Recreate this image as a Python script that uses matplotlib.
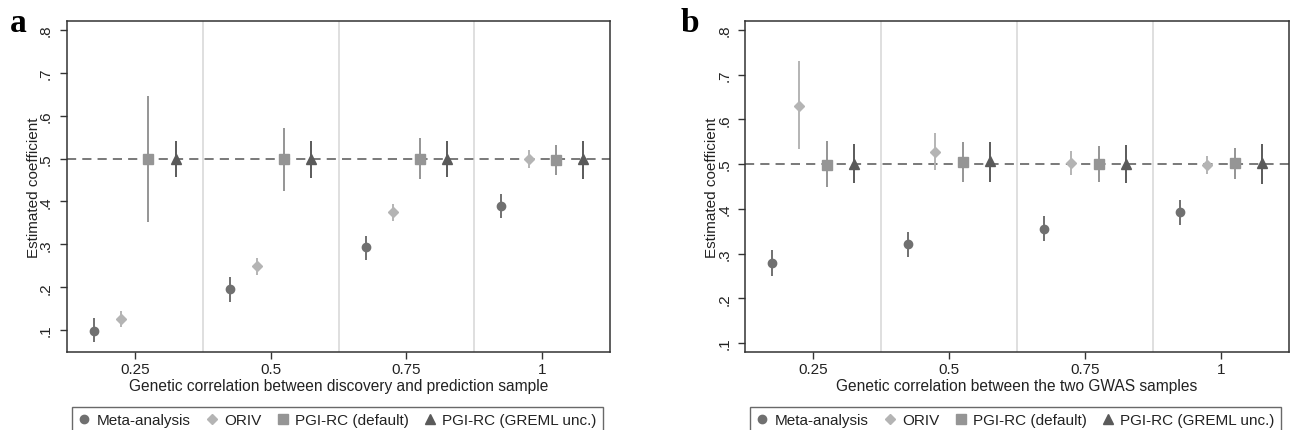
import matplotlib
matplotlib.use("Agg")
import matplotlib.pyplot as plt
import numpy as np

plt.rcParams['font.family'] = ['Liberation Sans', 'DejaVu Sans']

# Categories (genetic correlation)
rg = [0.25, 0.5, 0.75, 1.0]
xticklabels = ["0.25", "0.5", "0.75", "1"]
yticks = [0.1, 0.2, 0.3, 0.4, 0.5, 0.6, 0.7, 0.8]
yticklabels = [".1", ".2", ".3", ".4", ".5", ".6", ".7", ".8"]

methods = ["Meta-analysis", "ORIV", "PGI-RC (default)", "PGI-RC (GREML unc.)"]

# Panel a: estimates, lower and upper CI
a_meta = [0.098, 0.195, 0.293, 0.390]
a_meta_lo = [0.072, 0.166, 0.263, 0.362]
a_meta_hi = [0.128, 0.223, 0.320, 0.417]
a_oriv = [0.126, 0.249, 0.375, 0.499]
a_oriv_lo = [0.107, 0.228, 0.354, 0.479]
a_oriv_hi = [0.145, 0.268, 0.395, 0.519]
a_pgi = [0.500, 0.498, 0.500, 0.496]
a_pgi_lo = [0.353, 0.425, 0.452, 0.462]
a_pgi_hi = [0.647, 0.571, 0.548, 0.532]
a_greml = [0.500, 0.500, 0.500, 0.498]
a_greml_lo = [0.456, 0.454, 0.456, 0.452]
a_greml_hi = [0.542, 0.540, 0.542, 0.540]

# Panel b
b_meta = [0.279, 0.321, 0.356, 0.393]
b_meta_lo = [0.250, 0.293, 0.328, 0.365]
b_meta_hi = [0.309, 0.349, 0.383, 0.420]
b_oriv = [0.631, 0.528, 0.503, 0.498]
b_oriv_lo = [0.534, 0.487, 0.476, 0.478]
b_oriv_hi = [0.730, 0.569, 0.529, 0.519]
b_pgi = [0.499, 0.504, 0.500, 0.502]
b_pgi_lo = [0.449, 0.461, 0.461, 0.467]
b_pgi_hi = [0.551, 0.549, 0.541, 0.536]
b_greml = [0.500, 0.506, 0.501, 0.502]
b_greml_lo = [0.457, 0.461, 0.457, 0.456]
b_greml_hi = [0.544, 0.549, 0.543, 0.546]

offsets = [-0.075, -0.025, 0.025, 0.075]
colors = ["#707070", "#b4b4b4", "#959595", "#5a5a5a"]
markers = ["o", "D", "s", "^"]
msizes = [6.0, 5.5, 6.5, 6.5]

fig = plt.figure(figsize=(12.91, 4.31), dpi=100)
axa = fig.add_axes([0.0519, 0.181, 0.4206, 0.768])
axb = fig.add_axes([0.5771, 0.181, 0.4214, 0.768])

panels = [
    (axa, [(a_meta, a_meta_lo, a_meta_hi), (a_oriv, a_oriv_lo, a_oriv_hi),
           (a_pgi, a_pgi_lo, a_pgi_hi), (a_greml, a_greml_lo, a_greml_hi)],
     (0.049, 0.821), "Genetic correlation between discovery and prediction sample", "a"),
    (axb, [(b_meta, b_meta_lo, b_meta_hi), (b_oriv, b_oriv_lo, b_oriv_hi),
           (b_pgi, b_pgi_lo, b_pgi_hi), (b_greml, b_greml_lo, b_greml_hi)],
     (0.08, 0.82), "Genetic correlation between the two GWAS samples", "b"),
]

for ax, series, ylim, xlabel, letter in panels:
    for v in [0.375, 0.625, 0.875]:
        ax.axvline(v, color="#dcdcdc", lw=1.3, zorder=1)
    ax.axhline(0.5, color="#555555", lw=1.1, dashes=(6, 4), zorder=2)
    handles = []
    for i, (est, lo, hi) in enumerate(series):
        xs = np.array(rg) + offsets[i]
        ax.vlines(xs, lo, hi, color=colors[i], lw=1.4, zorder=3)
        h, = ax.plot(xs, est, linestyle="none", marker=markers[i], ms=msizes[i],
                     color=colors[i], mec=colors[i], zorder=4, label=methods[i])
        handles.append(h)
    ax.set_xlim(0.125, 1.125)
    ax.set_ylim(*ylim)
    ax.set_xticks(rg)
    ax.set_xticklabels(xticklabels, fontsize=11)
    ax.set_yticks(yticks)
    ax.set_yticklabels(yticklabels, fontsize=11, rotation=90, va="center")
    ax.tick_params(axis="both", direction="out", length=5, width=1, color="#333333",
                   labelcolor="#222222")
    ax.tick_params(axis="x", pad=2)
    ax.tick_params(axis="y", pad=5)
    for s in ax.spines.values():
        s.set_color("#333333")
        s.set_linewidth(1.1)
    ax.set_xlabel(xlabel, fontsize=11.2, color="#222222", labelpad=2)
    ax.set_ylabel("Estimated coefficient", fontsize=11, color="#222222", labelpad=-1)
    leg = ax.legend(handles=handles, loc="upper left", bbox_to_anchor=(0.0092, -0.166),
                    borderaxespad=0, ncol=4, frameon=True, fancybox=False,
                    fontsize=11, handlelength=0.8, handletextpad=0.4,
                    columnspacing=1.0, borderpad=0.4)
    leg.get_frame().set_edgecolor("#444444")
    leg.get_frame().set_linewidth(1.0)
    for t in leg.get_texts():
        t.set_color("#222222")

fig.text(10 / 1291, 1 - 32 / 431, "a", fontsize=24, fontweight="bold",
         family="Liberation Serif", va="baseline", ha="left")
fig.text(681 / 1291, 1 - 32 / 431, "b", fontsize=24, fontweight="bold",
         family="Liberation Serif", va="baseline", ha="left")

fig.savefig("out.png", dpi=100)
